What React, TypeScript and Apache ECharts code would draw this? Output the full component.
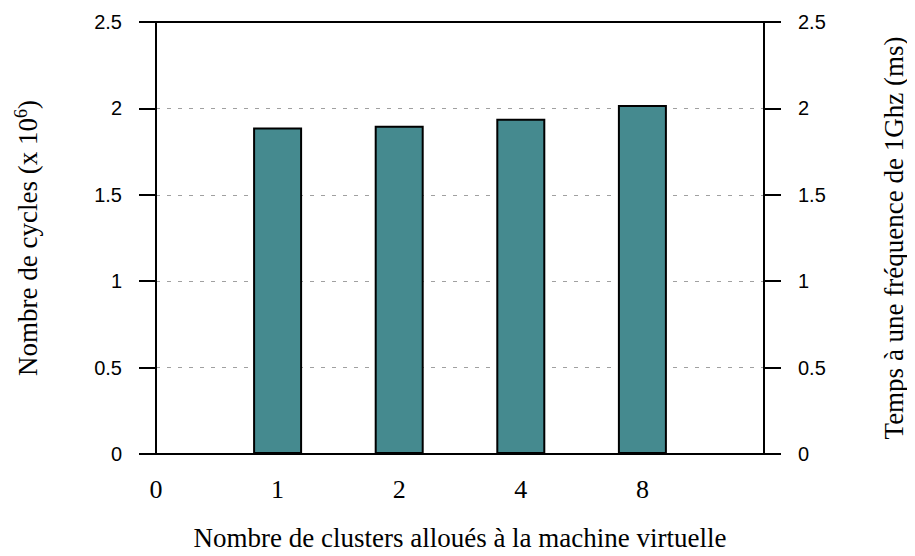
import React, { useEffect, useRef } from "react";
import * as echarts from "echarts";

const categories = ["0", "1", "2", "4", "8", ""];
const cycles = [null, 1.89, 1.9, 1.94, 2.02, null];
const yTicks = [0, 0.5, 1, 1.5, 2, 2.5];

export default function App() {
  const ref = useRef<HTMLDivElement>(null);
  useEffect(() => {
    if (!ref.current) return;
    const chart = echarts.init(ref.current, null, { renderer: "svg" });
    const serif = "'Liberation Serif', 'Times New Roman', serif";
    const sans = "'Liberation Sans', Arial, sans-serif";
    const yCommon = {
      type: "value" as const,
      min: yTicks[0],
      max: yTicks[yTicks.length - 1],
      interval: 0.5,
      nameLocation: "middle" as const,
      nameRotate: 90,
      axisLine: { show: true, lineStyle: { color: "#000", width: 2 } },
      axisTick: { show: true, inside: false, length: 17, lineStyle: { color: "#000", width: 2 } },
      axisLabel: { color: "#000", fontFamily: sans, fontSize: 20, margin: 34 },
    };
    chart.setOption({
      animation: false,
      grid: {
        left: 156,
        right: 147,
        top: 22,
        bottom: 99,
        show: false,
      },
      xAxis: [
        {
          type: "category",
          data: categories,
          boundaryGap: false,
          name: "Nombre de clusters alloués à la machine virtuelle",
          nameLocation: "middle",
          nameGap: 70,
          nameTextStyle: { color: "#000", fontFamily: serif, fontSize: 27 },
          axisLine: { show: true, onZero: false, lineStyle: { color: "#000", width: 2 } },
          axisTick: { show: false },
          axisLabel: { color: "#000", fontFamily: serif, fontSize: 26, margin: 22 },
          splitLine: { show: false },
        },
        {
          type: "category",
          data: categories,
          boundaryGap: false,
          position: "top",
          axisLine: { show: true, onZero: false, lineStyle: { color: "#000", width: 2 } },
          axisTick: { show: false },
          axisLabel: { show: false },
          splitLine: { show: false },
        },
      ],
      yAxis: [
        {
          ...yCommon,
          position: "left",
          name: "Nombre de cycles (x 10{sup|6})",
          nameGap: 112,
          nameTextStyle: {
            color: "#000",
            fontFamily: serif,
            fontSize: 27,
            rich: {
              sup: { fontFamily: serif, fontSize: 18, verticalAlign: "top", padding: [0, 0, 14, 0], color: "#000" },
            },
          },
          splitLine: {
            show: true,
            showMinLine: false,
            showMaxLine: false,
            lineStyle: { color: "#a0a0a0", width: 1, type: [4, 7] },
          },
        },
        {
          ...yCommon,
          position: "right",
          name: "Temps à une fréquence de 1Ghz (ms)",
          nameGap: 116,
          nameTextStyle: { color: "#000", fontFamily: serif, fontSize: 27 },
          splitLine: { show: false },
        },
      ],
      series: [
        {
          type: "bar",
          data: cycles,
          barWidth: 49,
          itemStyle: { color: "#458a8f", borderColor: "#000", borderWidth: 2 },
        },
      ],
    });
    return () => chart.dispose();
  }, []);
  return <div ref={ref} style={{ width: 915, height: 556, margin: -8 }} />;
}
